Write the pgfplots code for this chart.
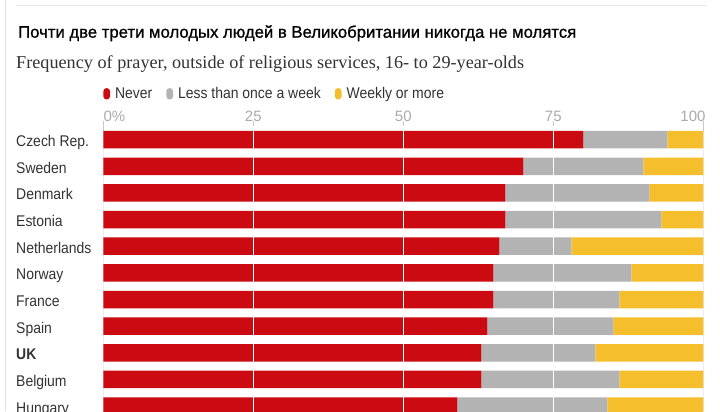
\documentclass[border=0pt]{standalone}
\usepackage{fontspec}
\setmainfont{Liberation Sans}
\newfontfamily\titlefont[FakeBold=1]{Liberation Sans}
\newfontfamily\subfont{Liberation Serif}
\newfontfamily\agate[FakeStretch=0.9]{Liberation Sans}
\usepackage{pgfplots}
\usepackage{pgfplotstable}
\pgfplotsset{compat=1.18}
\definecolor{gred}{HTML}{CC0A11}
\definecolor{ggray}{HTML}{B3B3B3}
\definecolor{gyellow}{HTML}{F5BE2C}
\definecolor{txt}{HTML}{333333}
\definecolor{ticktxt}{HTML}{AAAAAA}

\pgfplotstableread{
idx country never less weekly
0 Czech 80 14 6
1 Sweden 70 20 10
2 Denmark 67 24 9
3 Estonia 67 26 7
4 Netherlands 66 12 22
5 Norway 65 23 12
6 France 65 21 14
7 Spain 64 21 15
8 UK 63 19 18
9 Belgium 63 23 14
10 Hungary 59 25 16
}\prayer

\pgfplotsset{
  pill/.style={legend image code/.code={\fill[##1, draw=none, rounded corners=3.3bp] (0bp,-5.7bp) rectangle (6.8bp,5.7bp);}},
}

\begin{document}
\begin{tikzpicture}[x=1bp,y=1bp]
\useasboundingbox (0,0) rectangle (720,411);
\fill[white] (0,0) rectangle (720,411);
\begin{scope}
\clip (0,0) rectangle (720,411);
% frame
\draw[line width=1bp, color=black!13] (5,0) -- (5,411);
\draw[line width=1bp, color=black!10] (16,405.3) -- (706,405.3);
% title and subtitle
\node[anchor=base west, inner sep=0, text=black] at (18,411-37.7)
  {\titlefont\fontsize{16.7bp}{20bp}\selectfont Почти две трети молодых людей в Великобритании никогда не молятся};
\node[anchor=base west, inner sep=0, text=txt] at (16,411-68.3)
  {\subfont\fontsize{18.2bp}{22bp}\selectfont Frequency of prayer, outside of religious services, 16- to 29-year-olds};
% faint grid lines and tick marks
\foreach \x in {103.3,253.3,403.3,553.3,703.3} {
  \draw[black!7, line width=1bp] (\x,0) -- (\x,411-121);
  \draw[black!22, line width=1bp] (\x,411-121) -- (\x,411-131);
}

\begin{axis}[
  at={(103.3bp,284.6bp)}, anchor=north west,
  scale only axis, width=600bp, height=292.93bp,
  xbar stacked, bar width=17.5bp,
  xmin=0, xmax=100, ymin=-0.5, ymax=10.5, y dir=reverse,
  axis line style={draw=none},
  major tick length=0pt,
  xtick={25,50,75}, xticklabels={25,50,75},
  extra x ticks={0,100},
  extra x tick labels={\makebox[0pt][l]{\kern0.3bp 0\%},\makebox[0pt][r]{100\kern-2.2bp}},
  extra x tick style={grid=none},
  xticklabel pos=upper,
  xticklabel style={anchor=base, inner sep=0pt, yshift=5.4bp, text=ticktxt,
     font=\fontsize{15bp}{18bp}\selectfont},
  xmajorgrids, major grid style={white, line width=1.2bp},
  axis on top,
  ytick={0,...,10},
  yticklabels={Czech Rep., Sweden, Denmark, Estonia, Netherlands, Norway, France, Spain, \textbf{UK}, Belgium, Hungary},
  yticklabel style={anchor=base west, inner sep=0pt, xshift=-87.3bp, yshift=-7bp,
     text=txt, font=\agate\fontsize{15.5bp}{18bp}\selectfont},
  legend columns=-1,
  legend style={draw=none, fill=none, inner sep=0pt, outer sep=0pt,
     at={(0,1.1113)}, anchor=west,
     nodes={inner sep=0pt, text=txt, font=\agate\fontsize{15.5bp}{18bp}\selectfont},
     /tikz/every odd column/.append style={column sep=5bp},
     /tikz/every even column/.append style={column sep=14bp}},
]
\addplot+[fill=gred, draw=none, pill] table[x=never, y=idx] {\prayer};
\addlegendentry{Never}
\addplot+[fill=ggray, draw=none, pill] table[x=less, y=idx] {\prayer};
\addlegendentry{Less than once a week}
\addplot+[fill=gyellow, draw=none, pill] table[x=weekly, y=idx] {\prayer};
\addlegendentry{Weekly or more}
\end{axis}
\end{scope}
\end{tikzpicture}
\end{document}
